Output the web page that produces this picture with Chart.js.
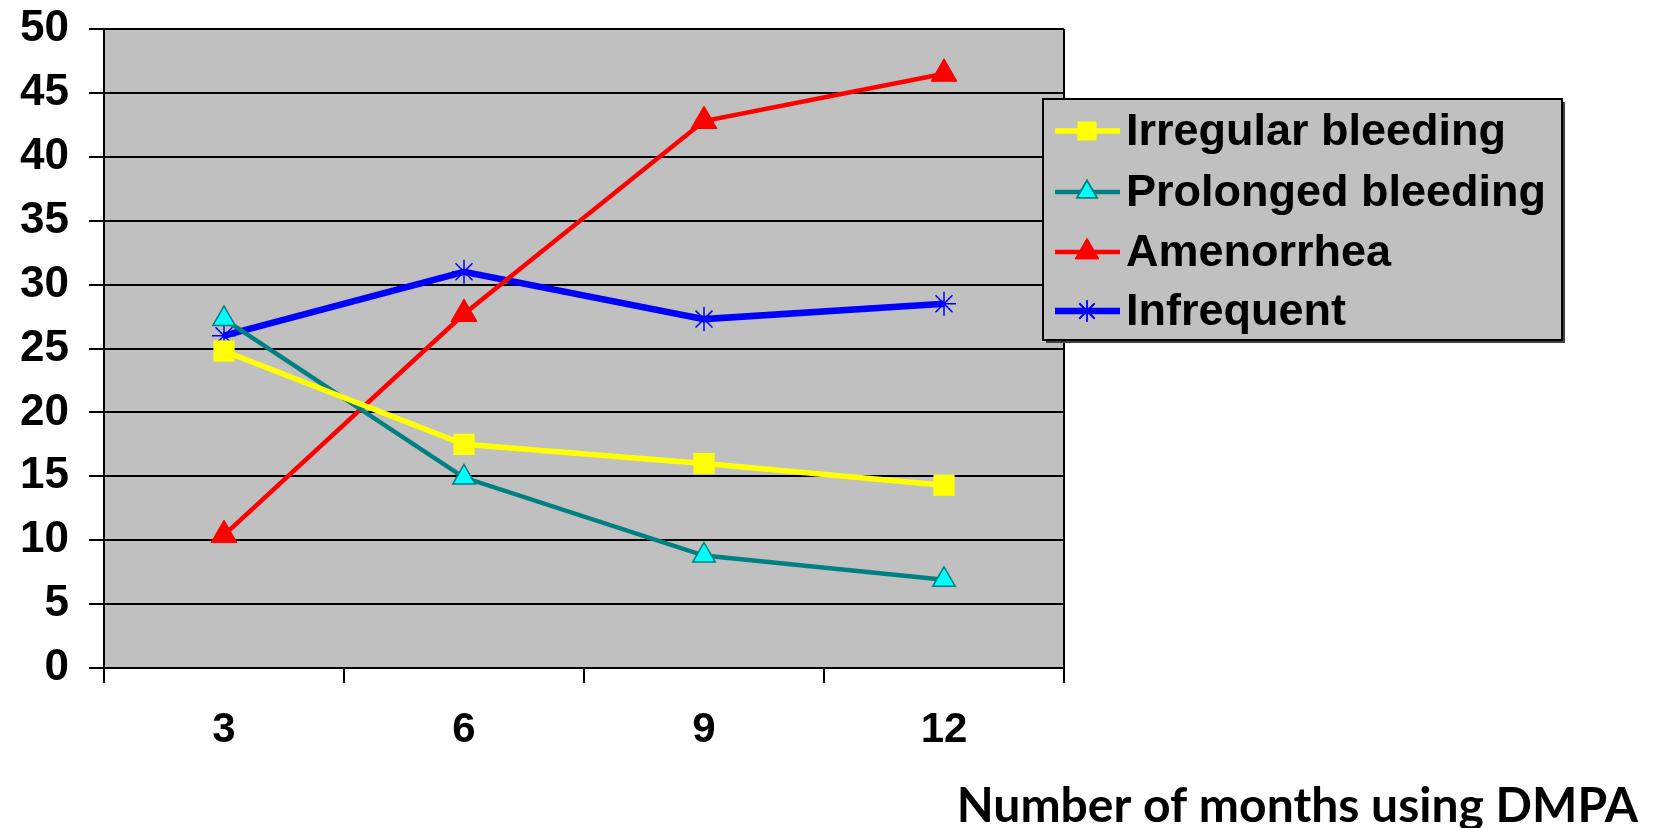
<!DOCTYPE html>
<html lang="en">
<head>
    <meta charset="UTF-8">
    <title>DMPA bleeding patterns</title>
    <script src="https://cdn.jsdelivr.net/npm/chart.js"></script>
    <style>
        html, body { margin: 0; padding: 0; background: #ffffff; }
        #wrap { width: 1668px; height: 828px; position: relative; }
    </style>
</head>
<body>
<div id="wrap"><canvas id="myChart" width="1668" height="828"></canvas></div>
<script>
    // months on DMPA
    const months = ['3', '6', '9', '12'];

    // percentages per series
    const irregular = [24.8, 17.5, 16.0, 14.3];
    const prolonged = [27.3, 14.9, 8.8, 6.9];
    const amenorrhea = [10.4, 27.7, 42.8, 46.5];
    const infrequent = [26.0, 31.0, 27.3, 28.5];

    const yTicks = [0, 5, 10, 15, 20, 25, 30, 35, 40, 45, 50];
    const xTitle = 'Number of months using DMPA';

    const xFont = { family: "'Liberation Sans', Arial, sans-serif", size: 42, weight: 'bold' };
    const yFont = { family: "'Liberation Sans', Arial, sans-serif", size: 44, weight: 'bold' };

    const data = {
        labels: months,
        datasets: [
            {
                label: 'Irregular bleeding',
                data: irregular,
                borderColor: '#ffff00',
                backgroundColor: '#ffff00',
                borderWidth: 5.5,
                pointStyle: 'rect',
                pointRadius: 15,
                pointBorderWidth: 0,
                pointBackgroundColor: '#ffff00'
            },
            {
                label: 'Prolonged bleeding',
                data: prolonged,
                borderColor: '#008080',
                backgroundColor: '#00ffff',
                borderWidth: 4.5,
                pointStyle: 'triangle',
                pointRadius: 13,
                pointBorderWidth: 1.5,
                pointBorderColor: '#008080',
                pointBackgroundColor: '#00ffff'
            },
            {
                label: 'Amenorrhea',
                data: amenorrhea,
                borderColor: '#ff0000',
                backgroundColor: '#ff0000',
                borderWidth: 4.5,
                pointStyle: 'triangle',
                pointRadius: 15,
                pointBorderWidth: 1,
                pointBorderColor: '#ff0000',
                pointBackgroundColor: '#ff0000'
            },
            {
                label: 'Infrequent',
                data: infrequent,
                borderColor: '#0000ff',
                backgroundColor: '#0000ff',
                borderWidth: 6.5,
                pointStyle: 'star',
                pointRadius: 12,
                pointBorderWidth: 1.5,
                pointBorderColor: '#0000ff'
            }
        ]
    };

    // gray plot area + border, custom legend box, axis title
    const decor = {
        id: 'decor',
        beforeDraw(chart) {
            const { ctx, chartArea: a } = chart;
            ctx.save();
            ctx.fillStyle = '#c0c0c0';
            ctx.fillRect(a.left, a.top, a.right - a.left, a.bottom - a.top);
            ctx.restore();
        },
        afterDatasetsDraw(chart) {
            const { ctx, chartArea: a } = chart;
            ctx.save();
            ctx.strokeStyle = '#000';
            ctx.lineWidth = 2;
            ctx.beginPath();
            ctx.moveTo(a.right, a.top);
            ctx.lineTo(a.right, a.bottom);
            ctx.stroke();

            // legend box
            const bx = 1043, by = 99, bw = 519, bh = 241;
            ctx.fillStyle = '#404040';
            ctx.fillRect(bx + 3, by + 3, bw, bh);
            ctx.fillStyle = '#c0c0c0';
            ctx.fillRect(bx, by, bw, bh);
            ctx.strokeStyle = '#000';
            ctx.lineWidth = 2;
            ctx.strokeRect(bx, by, bw, bh);

            const rows = [131, 192, 252, 311];
            chart.data.datasets.forEach((ds, i) => {
                const y = rows[i];
                ctx.strokeStyle = ds.borderColor;
                ctx.lineWidth = ds.borderWidth;
                ctx.beginPath();
                ctx.moveTo(1055, y);
                ctx.lineTo(1120, y);
                ctx.stroke();
                ctx.fillStyle = ds.pointBackgroundColor || ds.backgroundColor;
                ctx.strokeStyle = ds.pointBorderColor || ds.borderColor;
                ctx.lineWidth = ds.pointBorderWidth;
                Chart.helpers.drawPoint(ctx, { pointStyle: ds.pointStyle, radius: ds.pointRadius * 0.9, borderWidth: ds.pointBorderWidth }, 1087, y);
                if (ds.pointBorderWidth > 0) ctx.stroke();
                ctx.fillStyle = '#000';
                ctx.font = "bold 45px 'Liberation Sans', Arial, sans-serif";
                ctx.textBaseline = 'middle';
                ctx.textAlign = 'left';
                ctx.fillText(ds.label, 1126, y + 2);
            });

            // x axis title
            ctx.fillStyle = '#000';
            ctx.font = "bold 48px Lato, 'Open Sans', sans-serif";
            ctx.textAlign = 'right';
            ctx.textBaseline = 'alphabetic';
            ctx.fillText(xTitle, 1638, 822);
            ctx.restore();
        }
    };

    const config = {
        type: 'line',
        data: data,
        options: {
            responsive: false,
            animation: false,
            layout: { padding: { left: 0, top: 29, right: 604, bottom: 0 } },
            plugins: {
                legend: { display: false },
                tooltip: { enabled: false }
            },
            elements: { line: { tension: 0 } },
            scales: {
                x: {
                    offset: true,
                    grid: {
                        offset: true,
                        drawOnChartArea: false,
                        drawTicks: true,
                        tickLength: 15,
                        color: '#000',
                        lineWidth: 2
                    },
                    border: { color: '#000', width: 2 },
                    ticks: { color: '#000', font: xFont, padding: 22, maxRotation: 0 },
                    afterFit(scale) {
                        scale.height = 160;
                        scale.paddingLeft = 0;
                        scale.paddingRight = 0;
                    }
                },
                y: {
                    min: 0,
                    max: 50,
                    afterBuildTicks(scale) { scale.ticks = yTicks.map(v => ({ value: v })); },
                    grid: {
                        color: '#000',
                        lineWidth: 2,
                        tickLength: 15
                    },
                    border: { color: '#000', width: 2 },
                    ticks: { color: '#000', font: yFont, padding: 20 },
                    afterFit(scale) {
                        scale.width = 104;
                        scale.paddingTop = 0;
                        scale.paddingBottom = 0;
                    }
                }
            }
        },
        plugins: [decor]
    };

    new Chart(document.getElementById('myChart'), config);
</script>
</body>
</html>
